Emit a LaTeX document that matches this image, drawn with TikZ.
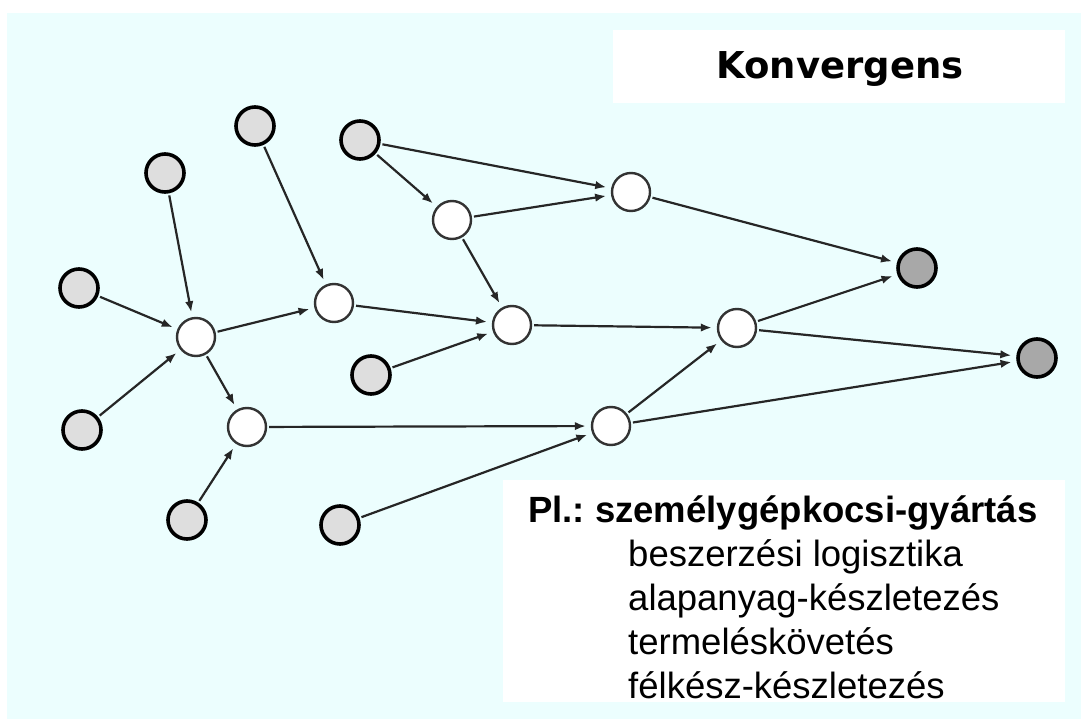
\documentclass[tikz,border=0pt]{standalone}
\usepackage{fontspec}
\setmainfont{Liberation Sans}
\newfontfamily\titlefont{DejaVu Sans}
\usetikzlibrary{arrows.meta}
\definecolor{bgcyan}{RGB}{236,254,254}
\definecolor{srcgray}{RGB}{222,222,222}
\definecolor{sinkgray}{RGB}{168,168,168}
\begin{document}
\frenchspacing
\begin{tikzpicture}[x=1pt,y=-1pt,
  srcnode/.style={circle, draw=black, line width=3.6pt, fill=srcgray, minimum size=38pt, inner sep=0pt},
  sinknode/.style={srcnode, fill=sinkgray},
  midnode/.style={circle, draw=black!80, line width=2.4pt, fill=white, minimum size=38pt, inner sep=0pt},
  arr/.style={-{Latex[length=11pt,width=8.5pt]}, line width=2.2pt, draw=black!85, shorten >=5pt, shorten <=2pt},
  txt/.style={anchor=base west, inner sep=0pt, font=\fontsize{36.5}{44}\selectfont}]
\useasboundingbox (0,0) rectangle (1081,719);
\fill[bgcyan] (7,13) rectangle (1081,719);
\fill[white] (613,30) rectangle (1065,103);
\fill[white] (503,480) rectangle (1065,702);

\node[anchor=base, inner sep=0pt, font=\titlefont\bfseries\fontsize{37}{40}\selectfont] (title) at (840,79) {Konvergens};

% source nodes
\node[srcnode] (g1) at (79,288) {};
\node[srcnode] (g2) at (82,430) {};
\node[srcnode] (g3) at (165,173) {};
\node[srcnode] (g4) at (255,126) {};
\node[srcnode] (g5) at (360,140) {};
\node[srcnode] (g6) at (371,375) {};
\node[srcnode] (g7) at (187,520) {};
\node[srcnode] (g8) at (340,525) {};
% sinks
\node[sinknode] (d1) at (917,268) {};
\node[sinknode] (d2) at (1037,358) {};
% intermediate nodes
\node[midnode] (w1) at (196,337) {};
\node[midnode] (w2) at (247,427) {};
\node[midnode] (w3) at (334,303) {};
\node[midnode] (w4) at (452,220) {};
\node[midnode] (w5) at (631,192) {};
\node[midnode] (w6) at (512,325) {};
\node[midnode] (w7) at (737,328) {};
\node[midnode] (w8) at (611,426) {};

% connectors
\draw[arr] (g1) -- (w1);
\draw[arr] (g2) -- (w1);
\draw[arr] (g3) -- (w1);
\draw[arr] (w1) -- (w3);
\draw[arr] (w1) -- (w2);
\draw[arr] (g7) -- (w2);
\draw[arr] (g4) -- (w3);
\draw[arr] (w3) -- (w6);
\draw[arr] (g5) -- (w4);
\draw[arr] (g5) -- (w5);
\draw[arr] (w4) -- (w5);
\draw[arr] (w4) -- (w6);
\draw[arr] (g6) -- (w6);
\draw[arr] (w6) -- (w7);
\draw[arr] (w2) -- (w8);
\draw[arr] (g8) -- (w8);
\draw[arr] (w8) -- (w7);
\draw[arr] (w8) -- (d2);
\draw[arr] (w5) -- (d1);
\draw[arr] (w7) -- (d1);
\draw[arr] (w7) -- (d2);

% example text
\node[txt] (l1) at (528,522) {\bfseries Pl.: személygépkocsi-gyártás};
\node[txt] (l2) at (628,566) {beszerzési logisztika};
\node[txt] (l3) at (628,610) {alapanyag-készletezés};
\node[txt] (l4) at (628,654) {termeléskövetés};
\node[txt] (l5) at (628,698) {félkész-készletezés};
\end{tikzpicture}
\end{document}
